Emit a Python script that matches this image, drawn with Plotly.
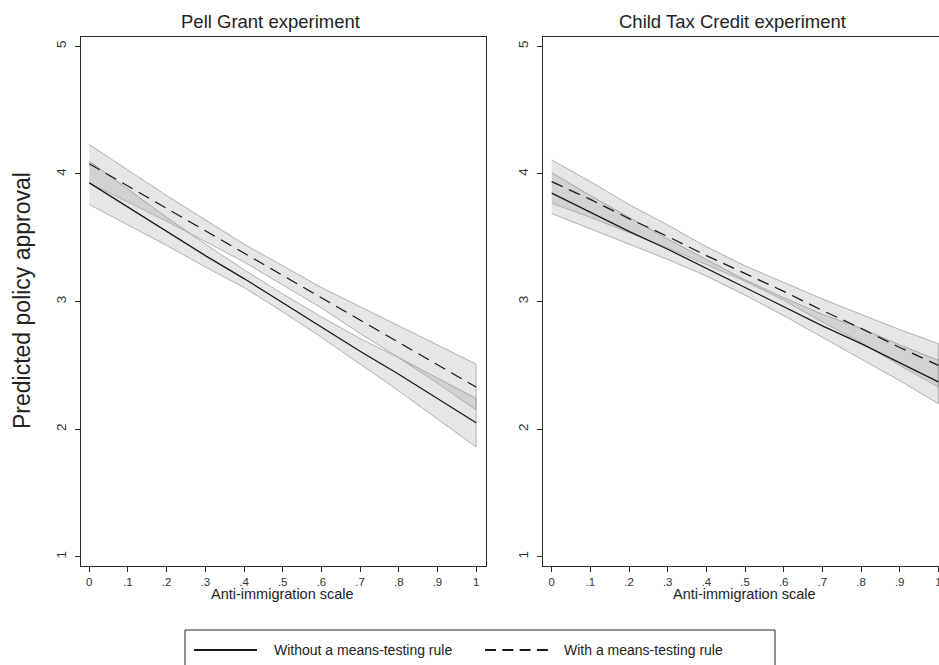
import plotly.graph_objects as go

# ---------------- data ----------------
x_vals = [0, 0.1, 0.2, 0.3, 0.4, 0.5, 0.6, 0.7, 0.8, 0.9, 1.0]
x_tick_labels = ["0", ".1", ".2", ".3", ".4", ".5", ".6", ".7", ".8", ".9", "1"]
y_tick_vals = [1, 2, 3, 4, 5]

panel_titles = ["Pell Grant experiment", "Child Tax Credit experiment"]
series_names = ["Without a means-testing rule", "With a means-testing rule"]

# Pell Grant experiment
pell_without = [3.93, 3.74, 3.55, 3.36, 3.18, 2.99, 2.80, 2.61, 2.43, 2.24, 2.05]
pell_without_lo = [3.76, 3.60, 3.44, 3.27, 3.11, 2.92, 2.72, 2.51, 2.30, 2.08, 1.86]
pell_without_hi = [4.10, 3.88, 3.66, 3.45, 3.25, 3.06, 2.88, 2.71, 2.56, 2.40, 2.24]
pell_with = [4.08, 3.905, 3.73, 3.555, 3.38, 3.205, 3.03, 2.855, 2.68, 2.505, 2.33]
pell_with_lo = [3.93, 3.78, 3.63, 3.47, 3.31, 3.13, 2.95, 2.75, 2.56, 2.36, 2.15]
pell_with_hi = [4.23, 4.03, 3.83, 3.64, 3.45, 3.28, 3.11, 2.96, 2.81, 2.66, 2.51]

# Child Tax Credit experiment
ctc_without = [3.85, 3.70, 3.55, 3.41, 3.26, 3.11, 2.96, 2.81, 2.67, 2.52, 2.37]
ctc_without_lo = [3.69, 3.57, 3.45, 3.33, 3.20, 3.05, 2.89, 2.72, 2.55, 2.38, 2.20]
ctc_without_hi = [4.01, 3.83, 3.66, 3.49, 3.33, 3.17, 3.03, 2.90, 2.79, 2.66, 2.54]
ctc_with = [3.94, 3.80, 3.65, 3.51, 3.36, 3.22, 3.08, 2.93, 2.79, 2.64, 2.50]
ctc_with_lo = [3.77, 3.66, 3.54, 3.42, 3.29, 3.16, 3.01, 2.84, 2.68, 2.50, 2.33]
ctc_with_hi = [4.11, 3.94, 3.76, 3.60, 3.43, 3.28, 3.15, 3.02, 2.90, 2.78, 2.67]

panels = [
    dict(without=pell_without, without_lo=pell_without_lo, without_hi=pell_without_hi,
         with_=pell_with, with_lo=pell_with_lo, with_hi=pell_with_hi),
    dict(without=ctc_without, without_lo=ctc_without_lo, without_hi=ctc_without_hi,
         with_=ctc_with, with_lo=ctc_with_lo, with_hi=ctc_with_hi),
]

# ---------------- figure ----------------
W, H = 939, 665
FONT = "Liberation Sans, Arial, Helvetica, sans-serif"
BAND_FILL = "rgba(128,128,128,0.2)"
BAND_LINE = "#a8a8a8"
DASH = "12px,7px"

fig = go.Figure()

def px_x(p):
    return p / W

def px_y(p):
    return 1 - p / H

for i, d in enumerate(panels):
    xa = "x" if i == 0 else "x2"
    ya = "y" if i == 0 else "y2"
    # confidence bands
    for lo, hi in [(d["without_lo"], d["without_hi"]), (d["with_lo"], d["with_hi"])]:
        fig.add_trace(go.Scatter(
            x=x_vals + x_vals[::-1], y=lo + hi[::-1],
            fill="toself", fillcolor=BAND_FILL,
            line=dict(color=BAND_LINE, width=0.9),
            mode="lines", hoverinfo="skip", showlegend=False,
            xaxis=xa, yaxis=ya))
    # predicted lines
    fig.add_trace(go.Scatter(
        x=x_vals, y=d["without"], mode="lines", name=series_names[0],
        line=dict(color="#1a1a1a", width=1.3), showlegend=False,
        xaxis=xa, yaxis=ya))
    fig.add_trace(go.Scatter(
        x=x_vals, y=d["with_"], mode="lines", name=series_names[1],
        line=dict(color="#1a1a1a", width=1.3, dash=DASH), showlegend=False,
        xaxis=xa, yaxis=ya))

axis_common = dict(
    showgrid=False, zeroline=False, showline=True, linecolor="#2a2a2a",
    linewidth=1.2, ticks="outside", ticklen=5, tickwidth=1, tickcolor="#2a2a2a",
    automargin=False, ticklabeloverflow="allow",
)
xtickfont = dict(family=FONT, size=11.5, color="#333333")
ytickfont = dict(family=FONT, size=13.5, color="#333333")

fig.update_layout(
    width=W, height=H,
    margin=dict(l=0, r=0, t=0, b=0),
    paper_bgcolor="white", plot_bgcolor="white",
    font=dict(family=FONT, color="#222222"),
    showlegend=False,
    xaxis=dict(domain=[px_x(80.7), px_x(485.7)], range=[-0.0222, 1.0248],
               tickvals=x_vals, ticktext=x_tick_labels, mirror=True, anchor="y",
               tickfont=xtickfont, **axis_common),
    yaxis=dict(domain=[px_y(565.7), px_y(37)], range=[0.93, 5.073],
               tickvals=y_tick_vals, tickangle=-90, mirror=True, anchor="x",
               tickfont=ytickfont, ticklabelstandoff=3, **axis_common),
    xaxis2=dict(domain=[px_x(542.7), 1.0], range=[-0.0233, 1.0016],
                tickvals=x_vals, ticktext=x_tick_labels, mirror=True, anchor="y2",
                tickfont=xtickfont, **axis_common),
    yaxis2=dict(domain=[px_y(565.7), px_y(37)], range=[0.93, 5.073],
                tickvals=y_tick_vals, tickangle=-90, mirror=False, anchor="x2",
                tickfont=ytickfont, ticklabelstandoff=3, **axis_common),
)

annotations = [
    dict(text=panel_titles[0], x=px_x(270), y=px_y(22), size=18.5),
    dict(text=panel_titles[1], x=px_x(732), y=px_y(22), size=18.5),
    dict(text="Anti-immigration scale", x=px_x(282.5), y=px_y(594), size=14.5),
    dict(text="Anti-immigration scale", x=px_x(744.7), y=px_y(594), size=14.5),
    dict(text="Predicted policy approval", x=px_x(22), y=px_y(301), size=23, angle=-90),
    dict(text=series_names[0], x=px_x(271.5), y=px_y(650), size=14, xanchor="left"),
    dict(text=series_names[1], x=px_x(561.5), y=px_y(650), size=14, xanchor="left"),
]
for a in annotations:
    fig.add_annotation(
        text=a["text"], x=a["x"], y=a["y"], xref="paper", yref="paper",
        xanchor=a.get("xanchor", "center"), yanchor="middle", showarrow=False,
        textangle=a.get("angle", 0),
        font=dict(family=FONT, size=a["size"], color="#222222"))

# custom legend box and keys
fig.add_shape(type="rect", xref="paper", yref="paper",
              x0=px_x(185), x1=px_x(775), y0=px_y(690), y1=px_y(630),
              line=dict(color="#222222", width=1), fillcolor="rgba(0,0,0,0)")
fig.add_shape(type="line", xref="paper", yref="paper",
              x0=px_x(194), x1=px_x(257), y0=px_y(650), y1=px_y(650),
              line=dict(color="#1a1a1a", width=2.2))
fig.add_shape(type="line", xref="paper", yref="paper",
              x0=px_x(485), x1=px_x(548), y0=px_y(650), y1=px_y(650),
              line=dict(color="#1a1a1a", width=2.2, dash="11px,6.3px"))

fig.write_html(
    "out.html",
    config={"displayModeBar": False},
    post_script="document.body.style.margin='0';document.body.style.overflow='hidden';",
)
